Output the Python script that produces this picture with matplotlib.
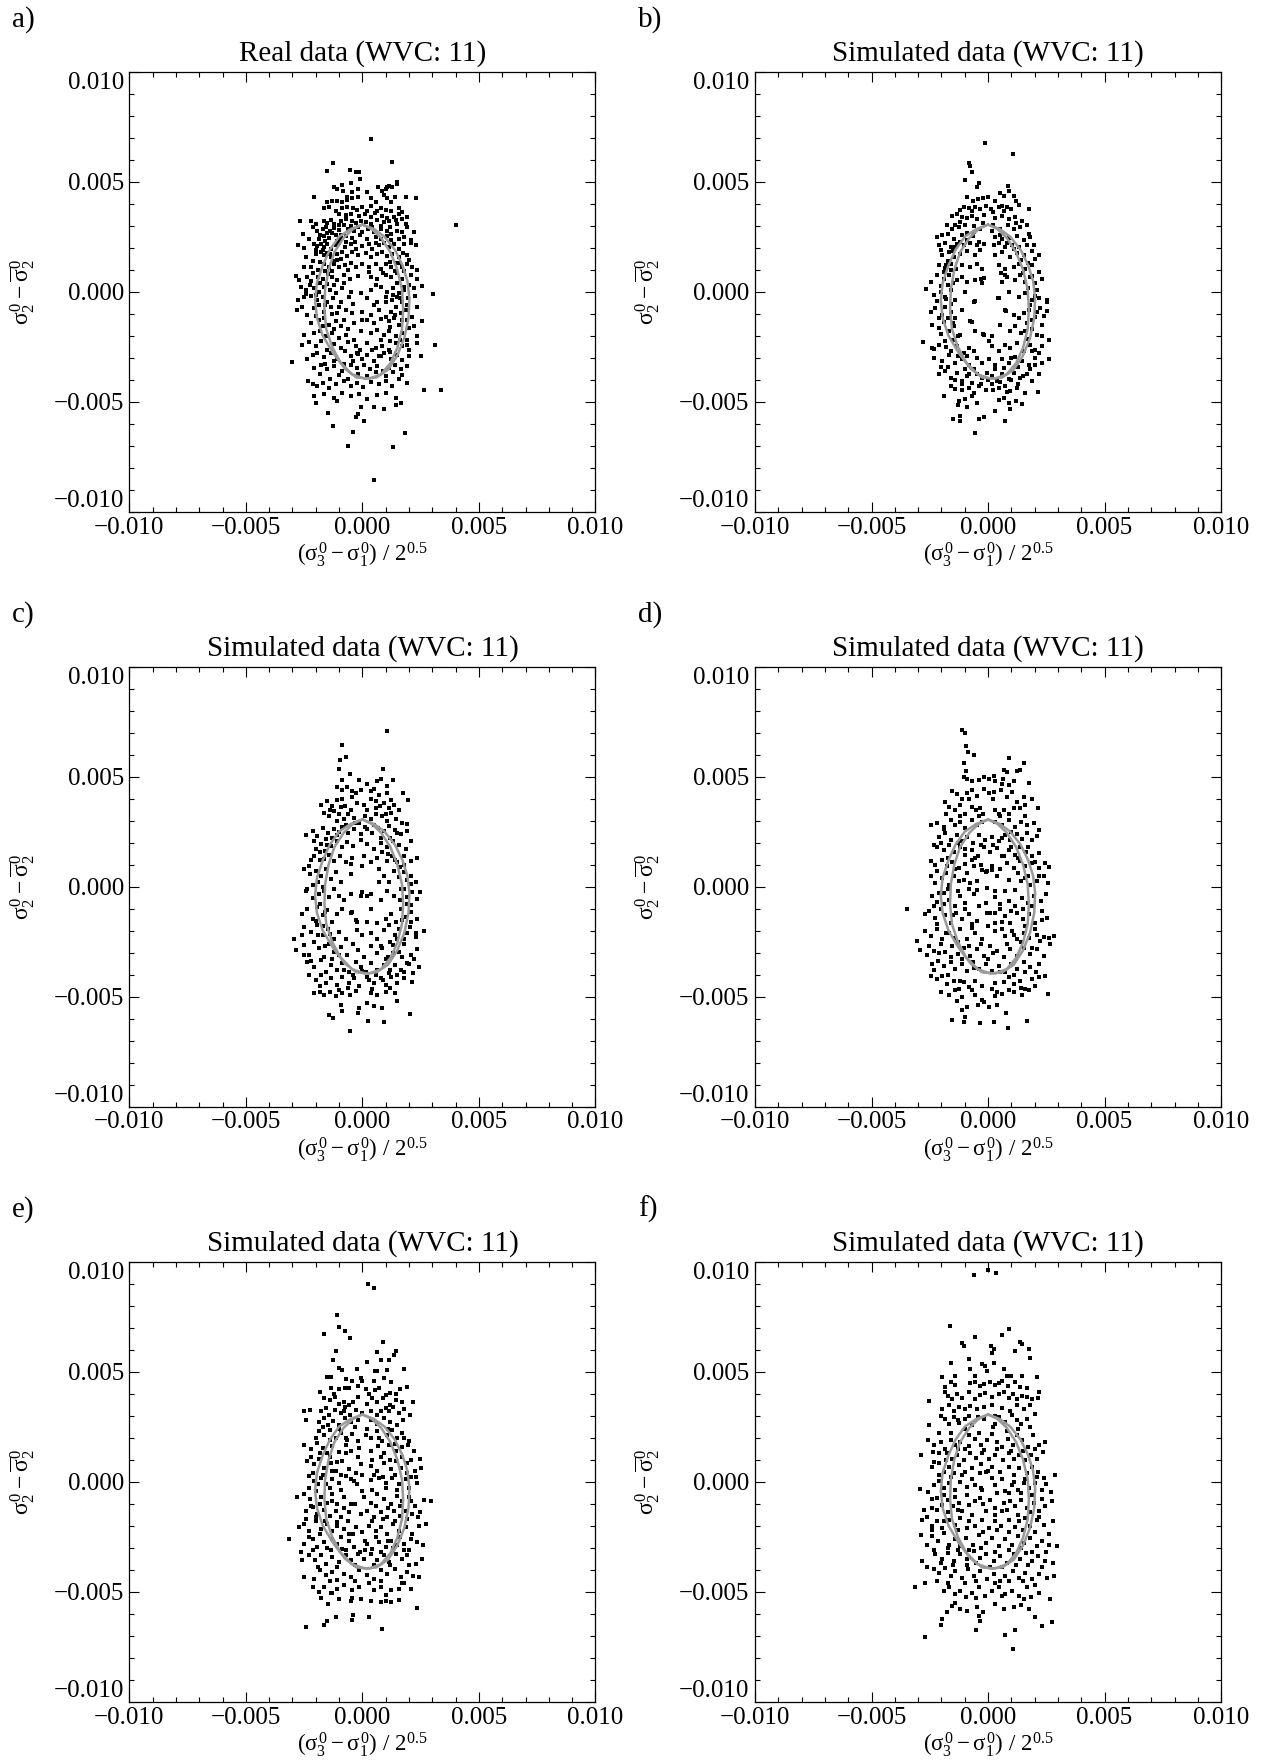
"""
Seis diagramas de dispersion (datos reales y simulados, WVC 11).
"""
import matplotlib.pyplot as plt
import numpy as np
from matplotlib.ticker import FixedLocator, MultipleLocator, FuncFormatter

plt.rcParams['font.family'] = ['Liberation Serif', 'DejaVu Serif']
plt.rcParams['mathtext.fontset'] = 'custom'
plt.rcParams['mathtext.rm'] = 'Liberation Serif'
plt.rcParams['mathtext.it'] = 'Liberation Serif'
plt.rcParams['mathtext.bf'] = 'Liberation Serif:bold'

# valores, en unidades de 1e-4
ESCALA = 1e-4

pts_a = [
    (3.9, 69.5), (-12.6, 58.3), (12.6, 58.8), (-15, 54.9), (-5.3, 55.5), (-2.9, 54.4), (-1.4, 54.4), (-1, 51),
    (15, 50), (14.7, 48.9), (12.9, 47.4), (10.4, 47.4), (-12.1, 47.8), (-11.1, 46.6), (-8.6, 48.4), (-5, 49.2),
    (-8.3, 45.6), (-6.7, 42.9), (-4.3, 45.1), (-1.9, 46.6), (6.7, 47.7), (8.6, 45.6), (10, 46.6), (11.4, 48),
    (-20.7, 42.9), (-15.3, 40.6), (-13.1, 41.4), (-10.7, 41.4), (-8.6, 40.9), (-6.7, 41.8), (-4.3, 42.6),
    (-1.9, 43.2), (1.9, 45.1), (3.6, 42.6), (5.9, 40.6), (9.3, 43.8), (10.4, 42.6), (12.1, 40.9), (14, 42.9),
    (18.6, 43.2), (23.1, 42.4),
    (-16.4, 38), (-14.3, 38.6), (-11.4, 36.8), (-8.6, 38), (-6.4, 38.6), (-3.9, 38), (-2.4, 37.1), (0, 38.6),
    (2.1, 36.8), (3.6, 39.1), (6.1, 36.8), (7.9, 38), (10, 37.1), (12.1, 36.8), (15.7, 38), (17.1, 36.1),
    (-10, 35.3), (-7.1, 34.9), (-5, 35.3), (-1.4, 34.6), (1.1, 35.3), (3.9, 34.1), (5.3, 35.6), (8.6, 34.6),
    (10.7, 33.5), (13.6, 33.8), (15.7, 35.3), (19.3, 33.8),
    (-26.7, 32.3), (-21.9, 32.3), (-20, 30.8), (-16.4, 32.3), (-13.6, 32.6), (-12.1, 30.8), (-9.3, 32.3),
    (-7.1, 33.1), (-4.3, 32.3), (-2.9, 31.1), (-0.7, 32.3), (1.4, 31.6), (3.6, 30.8), (6.4, 32.6), (9.3, 31.6),
    (11.4, 32.3), (14.3, 32.6), (17.1, 33.1), (18.6, 30.8), (15, 30.8),
    (-25.3, 26.3), (-21, 29.3), (-19.3, 27.8), (-17.1, 28.6), (-15.7, 29.6), (-13.9, 27.8), (-12.1, 29),
    (-10, 28.1), (-8.1, 30.1), (-6.1, 28.6), (-3.6, 27.8), (-1.9, 29.3), (2.4, 28.6), (5, 27.1), (7.9, 28.6),
    (10.4, 27.8), (12.4, 26.3), (14.7, 27.8), (17.1, 27.1), (19.3, 29.3), (22.1, 27.1),
    (-18.6, 24.1), (-16.4, 25.1), (-14.3, 24.5), (-11.4, 25.6), (-9.3, 24.1), (-7.1, 25.1), (-4.3, 24.5),
    (-1, 25.6), (2.1, 24.1), (5.7, 24.8), (7.9, 24.1), (10.7, 25.1), (12.4, 23.3), (15.7, 24.1), (17.9, 24.8),
    (20.7, 23.3),
    (-27.6, 21.1), (-20.7, 21.8), (-19.3, 20.6), (-17.9, 21.8), (-16.4, 20.3), (-15, 21.5), (-13.6, 19.5),
    (-11.4, 21.1), (-10, 22.1), (-7.6, 20.3), (-5, 21.5), (-2.9, 19.5), (0, 20.6), (2.9, 21.8), (4.3, 19.5),
    (7.1, 21.1), (9.3, 22.1), (11.4, 20.3), (13.6, 21.5), (15.7, 19.5), (17.9, 21.8), (20.7, 22.1), (22.9, 21.1),
    (-24.3, 15.8), (-20, 17.3), (-17.9, 18), (-16.4, 16.5), (-15, 17.6), (-13.6, 15.8), (-11, 17.3), (-8.6, 18),
    (-6.7, 16.1), (-4.3, 18), (-1.9, 16.5), (1.4, 17.6), (3.6, 15.8), (6.4, 17.3), (8.6, 18), (10.7, 16.1),
    (12.9, 17.3), (15.7, 15.8), (17.6, 17.6), (19.3, 16.5),
    (-28.6, 7.1), (-25, 11.3), (-22.1, 11.3), (-18.1, 13.5), (-16.4, 12.5), (-14.3, 11.3), (-12.1, 12.8),
    (-10, 11.3), (-7.6, 12), (-5, 13.1), (-2.9, 11.3), (0, 12.5), (2.9, 11.3), (5.7, 12.8), (7.9, 10.5),
    (10, 12.5), (12.1, 11.3), (14.3, 13.1), (17.1, 11.3), (19.3, 12.8), (21.4, 11.3), (23.6, 9.8),
    (-27.1, 5.3), (-23.6, 6.8), (-21, 8.3), (-19, 6.8), (-16.7, 6), (-14.7, 8), (-12.9, 6.8), (-10.7, 5.3),
    (-8.1, 7.5), (-5.3, 6), (-1.9, 7.1), (3.6, 6.8), (6.1, 5.6), (10, 7.5), (12.4, 6.5), (14.7, 8.3), (17.1, 6),
    (20.7, 7.5), (23.3, 6),
    (-26.4, 2.3), (-24.3, 0.8), (-22.4, 3), (-20.7, 1.5), (-18.6, 0), (-16.4, 2.3), (-13.9, 0.8), (-11.4, -0.8),
    (-8.6, 1.5), (-5, 0), (-0.7, -0.8), (3.6, 0.8), (7.9, 2.3), (10.7, 0), (13.3, 1.5), (15.7, -0.8), (17.9, 0.8),
    (20, 3), (22.1, 1.5), (25.7, 2.6), (30.4, -1.1),
    (-27.6, -3.8), (-25, -2.6), (-22.1, -2), (-19.3, -3.8), (-17.1, -2.3), (-15, -4.5), (-12.4, -3), (-9.3, -4.5),
    (-5.7, -2.3), (2.1, -3), (6.4, -4.5), (10, -2.3), (12.9, -3.8), (15, -2.3), (17.1, -4.5), (19.6, -3),
    (22.4, -2),
    (-27.9, -8.3), (-25.7, -6.8), (-23.6, -10.5), (-20.7, -7.5), (-18.6, -6), (-16.4, -9), (-13.6, -6.8),
    (-10.7, -9.8), (-7.1, -8.3), (-4.3, -9.8), (0, -9), (3.6, -10.5), (7.1, -8.3), (10, -11.3), (12.1, -9),
    (14.3, -6.8), (16.4, -9.8), (18.6, -8.3), (21.4, -11.3), (23.6, -6.8),
    (-22.1, -14.3), (-18.6, -12.8), (-16.4, -12), (-14.3, -15), (-11.4, -13.5), (-7.9, -12.8), (-3.6, -14.3),
    (2.1, -12.8), (5, -14.3), (7.9, -12.5), (11.4, -13.5), (13.6, -12), (15.7, -15), (19.3, -12.8),
    (22.1, -15.8), (25.7, -13.5),
    (-25, -19.5), (-20.7, -18.8), (-18.1, -18), (-15.7, -20.3), (-12.9, -18.8), (-10, -21.1), (-7.1, -19.5),
    (-3.6, -21.8), (-0.7, -18), (3.6, -18.8), (6.4, -17.6), (9.3, -19.5), (11.4, -18), (14.3, -20.3),
    (17.1, -18.8), (19.3, -21.8), (23.6, -20), (31, -24),
    (-25.7, -24.1), (-22.9, -23), (-20, -24.8), (-17.9, -22.6), (-15, -26.3), (-12.1, -23.6), (-9.3, -25.6),
    (-6.1, -23), (-2.9, -24.8), (-1, -26.3), (2.1, -23.3), (5.7, -25.6), (8.6, -24.5), (11.4, -26.3),
    (14.3, -23.3), (17.1, -24.8), (20, -26.3), (23.6, -23.3),
    (-30, -32), (-23.6, -30.8), (-21.4, -28.6), (-19.3, -27.8), (-16.4, -29.6), (-13.6, -27.8), (-10.7, -30.8),
    (-7.6, -27.1), (-5, -29.3), (-2.4, -27.8), (0, -30.8), (2.1, -28.6), (5, -31.6), (7.1, -29.3), (9.3, -27.8),
    (12.1, -30.8), (15, -28.6), (17.1, -31.1), (20, -29.3), (25, -29.3),
    (-20.7, -34.6), (-17.9, -33.1), (-15.3, -35.3), (-12.1, -33.8), (-8.6, -36.1), (-5, -33.5), (-2.1, -34.6),
    (0.7, -33.1), (3.3, -35.3), (6.4, -33.8), (9, -36.1), (11.4, -34.6), (13.9, -33.1), (16.4, -35.3),
    (19.3, -33.8),
    (-23.3, -40.6), (-21.4, -42.1), (-19.3, -42.9), (-17.1, -41.4), (-14.3, -43.6), (-11.4, -42.1),
    (-8.1, -40.6), (-5, -42.9), (-2.1, -41.4), (0.4, -43.2), (3.6, -41.1), (7.1, -42.1), (10, -40.6),
    (12.9, -42.9), (15.7, -39.8), (19, -41.4), (26.4, -44.7), (33.6, -44.7),
    (-20.7, -47.4), (-16.4, -46.6), (-12.1, -48.1), (-8.6, -46.2), (-5, -47.4), (-1.4, -46.6), (2.1, -48.6),
    (6.4, -47.1), (10, -45.9), (14.3, -48.1), (16.7, -50.7),
    (-20, -50.7), (-10.7, -49.6), (-0.7, -52.2), (5, -52.6), (9.3, -53.1), (14.3, -51.6), (-14.7, -54.9),
    (-1.9, -55.6), (-2.9, -57.1), (0.7, -58.6), (-12.6, -61.2), (-3.9, -63.9), (18.1, -64.2), (-6.1, -69.9),
    (13.3, -70.4), (5, -85.7), (40, 30.5),
    (-18, 26), (-16, 23), (-13, 26.5), (-11, 23), (-9, 26), (-20, 19), (-17, 19), (-14, 17), (-12, 14), (-9, 15),
    (-19, 10), (-16, 9.5), (-13, 9.5), (-11, 14.5), (-21, 14), (-22, 5), (-18, 4), (-15, 3.5), (-12, 3),
    (-24, -1), (-20, -1.5), (-16, -6), (-13, -10), (-10, -7), (-20, -11), (-17, -15.5), (-12, -17), (-9, -15.5),
    (-6, -17), (-2, -28.5), (4, -26.5), (8, -29), (12, -27.5), (14, -33.5), (-4, -31.5), (-8, -33), (-12, -31.5),
    (-16, -33), (-18, -37.5), (-14, -39.5), (-10, -38), (-6, -39.5), (-2, -37.5), (2, -38.5), (6, -36.5),
    (10, -38.5), (13, -36.5), (17, -38), (12, 13.5), (14, 9.5), (16, 13), (18, 9.5), (20, 14.5), (9, 8.5),
    (15, 4), (18, 2), (13, -1.5), (16, -3), (19, -6), (10, -4.5), (14, -10.5), (17, -13), (20, -16.5), (12, -16),
    (8, -22), (12, -22.5), (16, -22), (19, -24), (4, 29.5), (8, 30), (12, 29.5), (-5, 30), (-10, 30.5),
    (-15, 31), (0, 27), (-3, 22.5), (6, 22), (-7, 22.5), (-15, 26.5), (-23, 24), (-25, 20), (-6, 10), (3, 9),
    (-4, -5.5), (5, -6), (0, -13), (-8, 4), (6, 3),
]

pts_b = [
    (-1.4, 67.7), (10.6, 62.4), (-8, 58.6), (-7.9, 57.1), (-7.1, 54.4), (-10.1, 50.7), (-4, 49.6), (-4.7, 47.4),
    (8.6, 48.1), (8.9, 45.9), (11, 43.6), (12, 41.4), (4.9, 44.8), (6.7, 43.6),
    (-9, 42.9), (-6.6, 41.4), (-4.3, 42.1), (-2.3, 42.4), (0, 42.9), (2.9, 41.4), (4.6, 38.3), (6, 38.8),
    (8.1, 38.3), (10, 37.6), (13.1, 39.4), (17.4, 37.6), (-10.4, 38.3), (-8.3, 37.9), (-5.4, 38.3), (-3.3, 37.6),
    (-1.1, 39.1), (1.4, 37.6),
    (-15.4, 34.6), (-13.3, 35.3), (-11.1, 33.8), (-9, 33.4), (-6.9, 34.6), (-4.7, 33.1), (-1.9, 34.9),
    (3.1, 33.4), (6, 34.6), (8.9, 33.1), (11.7, 33.8), (14.6, 32.3), (-11.9, 31.6), (-14, 30.1),
    (-17.6, 30.1), (-15.4, 28.6), (-12.6, 29.3), (-9.7, 30.4), (-6.1, 29.8), (-3.3, 28.6), (1.7, 27.8),
    (5.3, 28.6), (8.6, 30.4), (11, 28.6), (13.9, 29.3), (17.4, 26.3), (16.7, 30.1),
    (-21.9, 24.8), (-19.7, 25.6), (-17.1, 26.3), (-14.7, 24.1), (-11.1, 25.6), (-9, 23.3), (-6.6, 25.3),
    (-4, 22.6), (3.1, 24.8), (6, 23.8), (8.9, 24.4), (12.4, 25.3), (15.3, 23.3), (18.1, 24.8),
    (-21.1, 21.1), (-18.3, 22.3), (-16.1, 20.3), (-13.3, 21.8), (-10.4, 21.1), (-7.6, 22.3), (-4.7, 21.1),
    (-1.9, 21.8), (2.4, 21.1), (4.6, 22.3), (7.4, 20.3), (10.3, 21.4), (13.4, 20.3), (16.7, 21.4), (19.6, 21.1),
    (-19.7, 16.5), (-16.9, 18), (-14.7, 15.8), (-11.9, 17.3), (-9, 18.3), (-5.4, 16.5), (-3.3, 18.8),
    (3.1, 16.5), (6, 18), (9.6, 15.8), (12.4, 17.7), (15.3, 16.5), (18.9, 18.3), (20.3, 15), (21.7, 16.5),
    (-21.1, 12), (-18.3, 10.8), (-16.1, 12.8), (-13.9, 10.5), (-11.1, 12), (-7.6, 11.3), (-4.7, 12.4),
    (-2.6, 10.5), (4.6, 12), (7.4, 10.5), (11, 11.3), (13.1, 12.8), (15.9, 10.5), (18.9, 12), (22, 9),
    (-24.7, 4.5), (-26.6, 1.2), (-21.9, 7.5), (-19, 6), (-16.9, 7.5), (-15.1, 3.8), (-13.3, 5.3), (-11.1, 6.8),
    (-9, 4.5), (-5.4, 5.3), (-1.9, 6.3), (6, 4.5), (8.1, 6.8), (11.7, 5.3), (13.9, 7.5), (16, 4.5), (18.1, 6.8),
    (20.3, 3.8), (23.1, 6),
    (-23.3, -1.5), (-20.4, 0), (-18.3, -2.3), (-16.1, 0.8), (-14.3, -3.8), (-9.7, 0), (-6.1, -4.5), (4.6, -3),
    (8.9, 0), (13.1, -2.3), (16, -0.8), (18.9, -3.8), (21, 0.8), (25.3, -3.8), (25.3, -4.5),
    (-24.7, -9), (-22.6, -7.5), (-19.7, -10.5), (-18.3, -6.8), (-16.1, -9), (-14, -12), (-11.1, -8.3),
    (-7.6, -13.5), (7.4, -8.3), (11, -10.5), (13.1, -12), (15.3, -9.8), (17.4, -8.3), (20.3, -11.3),
    (22.4, -7.5), (25.3, -8.7),
    (-24, -15), (-21.1, -16.5), (-19, -13.8), (-16.9, -18), (-14.7, -15.8), (-11.9, -19.5), (-5.4, -18),
    (-1.9, -19.5), (9.6, -18), (11.7, -15.8), (14.3, -18.8), (16.7, -14.3), (18.9, -16.8), (21, -19.5),
    (23.1, -15),
    (-28, -22.9), (-24, -25.6), (-21.1, -24.1), (-18.3, -22.6), (-16.1, -27.1), (-13.3, -24.8), (-10.4, -27.8),
    (-8.3, -25.6), (0.3, -22.6), (1.7, -24.8), (4.6, -27.1), (7.4, -24.1), (9.6, -25.6), (12.4, -23.3),
    (15.3, -27.1), (18.1, -24.1), (20.3, -26.3), (23.1, -24.8), (26.3, -21.8),
    (-23.3, -30.1), (-19.7, -31.6), (-16.9, -28.9), (-14, -32.3), (-11.1, -30.8), (-8, -33.1), (-4.7, -30.1),
    (-2.6, -32.3), (0.3, -30.4), (3.1, -33.1), (6, -30.8), (8.9, -32.3), (11.7, -29.6), (14.6, -31.6),
    (17.4, -33.1), (20.3, -30.1), (23.1, -32.3), (26, -30.4),
    (-21.1, -37.6), (-18.3, -36.1), (-16.1, -39.1), (-13.3, -36.8), (-11.1, -40.6), (-9, -38.3), (-6.9, -41.4),
    (-4.7, -37.6), (-2.6, -39.1), (-0.4, -36.8), (1.7, -38.3), (3.9, -40.6), (6, -37.6), (8.9, -39.8),
    (11, -36.8), (13.9, -39.1), (16.7, -37.6), (18.9, -40.6), (21.7, -37.6),
    (-19, -47.4), (-16.1, -42.9), (-14, -44.4), (-11.1, -42.1), (-8.3, -43.9), (-6.1, -45.9), (-4, -42.9),
    (-1.1, -44.8), (1.7, -42.1), (4.6, -43.9), (7.4, -42.9), (9.6, -45.1), (12.4, -43.6), (16, -45.9),
    (21.4, -45.4),
    (-12.6, -49.6), (-9.7, -48.9), (-6.9, -47.4), (-4.7, -50.4), (4.6, -49.3), (6.7, -48.1), (9, -50.8),
    (11.9, -49.6), (14.7, -51.1), (-12.9, -51.4), (-9, -52.6), (3.1, -54.1), (9.6, -53.4),
    (-15.1, -57.9), (-11.9, -56.4), (-11.9, -58.9), (-3.7, -57.9), (-1.9, -56.8), (7.1, -58.6), (-5.4, -64.4),
    (-5.7, -4.2), (-7.1, -13.8), (4.3, -3), (7.9, -8.7), (-2.3, -19.2), (1.7, -20.3), (4.9, -15), (-2.9, 6),
    (-2.6, 3.8), (5.7, 8.7), (7.4, 7.5),
    (-20, 19), (-17, 14), (-15, 18.5), (-19, 9), (-17, 3), (-20, 2.5), (-22, -4), (-18, -3.5), (-16, -5.5),
    (-21, -12), (-17, -12), (-15, -14), (-20, -19), (-18, -25), (-15, -22), (-13, -29), (-10, -35), (-8, -37.5),
    (-6, -35), (-3, -42), (0, -40), (2, -44.5), (5, -41), (8, -45.5), (10, -40), (13, -42), (15, -38.5),
    (18, -35), (20, -33.5), (22, -28), (19, -27), (17, -21.5), (16, -18), (19, -13), (21, -9), (18, -6), (20, -2),
    (17, 1.5), (19, 7), (15, 8.5), (17, 13), (14, 14.5), (11, 19.5), (8, 22), (5, 26), (2, 30.5), (-2, 31),
    (-6, 27), (-9, 26.5), (-12, 22.5), (-14, 20.5), (-16, 10), (-18, 12), (-13, -20), (-9, -29), (-6, -27),
    (3, -35), (7, -34.5), (10, -30), (13, -34), (-11, -44.5), (-14, -40), (-17, -34), (-20, -34), (-23, -26),
    (23, -20), (24, -11), (22, -3), (-12, 37), (-7, 36.5), (2, 36), (7, 36.5), (12, 31),
]

pts_c = [
    (10.4, 70.7), (-8.9, 64.4), (-9.7, 57.3), (-7.1, 58.8), (-10, 53.4), (-5.3, 51.3), (8.7, 53.4),
    (-8.9, 48.6), (-1.4, 48.3), (2.1, 46.8), (6.4, 47.8), (8.1, 48.9), (10.7, 45.9), (13.3, 48.3),
    (-10.7, 45.3), (-8.6, 44.1), (-6.4, 45.3), (-4.3, 43.3), (-2.9, 42.6), (-0.7, 44.1), (3.6, 43.3), (5, 44.4),
    (7.1, 41.8), (10.7, 42.6), (12.4, 39.5), (17.6, 42.6), (19.6, 39.5),
    (-17.9, 37.3), (-15, 38.8), (-12.9, 36.5), (-10.7, 39.5), (-8.6, 39.8), (-7.6, 36.8), (-4.3, 40.8),
    (-2.1, 38), (0.7, 37.3), (3.6, 39.8), (5.7, 38.8), (7.6, 36.5), (9.3, 38), (11.4, 35.8), (13.6, 37.3),
    (15.7, 35),
    (-16.4, 33.5), (-14.3, 32), (-12.1, 34.3), (-10, 32.8), (-8.1, 30.5), (-6.1, 33.2), (-3.6, 31.3), (-1.4, 29),
    (1, 32.3), (3.6, 30.5), (5.7, 33.2), (8.6, 32), (10.4, 29.8), (12.1, 33.5), (14.3, 30.8), (17.1, 29),
    (19.3, 28.3),
    (-24.3, 23.3), (-21.4, 25.3), (-19.3, 23), (-16.7, 26.8), (-14.7, 24.5), (-12.1, 26), (-10.7, 23.3),
    (-8.6, 27.2), (-6.1, 24.2), (-3.6, 26), (-0.7, 23.8), (2.1, 26.3), (4.3, 24.5), (6.7, 26.8), (9.3, 25.3),
    (11.4, 27.5), (13.9, 25.7), (16.4, 23.8), (19.3, 25.3),
    (-20.7, 20.8), (-17.9, 19.2), (-15.7, 21.5), (-13.6, 18.5), (-11, 20.8), (-8.6, 18.2), (-6.4, 20.3),
    (-3.9, 18.5), (-0.7, 21.2), (2.1, 19.2), (5, 17), (7.9, 20), (10.7, 18.2), (13.3, 20.8), (15.7, 18.8),
    (18.6, 17), (20.7, 20.8),
    (-22.9, 9.5), (-20.7, 14), (-18.1, 15.5), (-16.4, 12.5), (-14.3, 14.3), (-12.1, 11.7), (-9.6, 14),
    (-7.1, 11), (-4.3, 13.2), (0.7, 14), (3.6, 11), (6.4, 12.8), (8.6, 15.5), (10.7, 11.7), (12.9, 14),
    (15, 11), (17.9, 14), (20.7, 11.7), (23.6, 13.2),
    (-25, 8), (-22.4, 5.7), (-20, 7.2), (-17.9, 5), (-15.7, 8), (-13.6, 3.5), (-11.4, 6.5), (-9, 2), (-5, 5.7),
    (7.1, 8), (9.3, 5), (11.4, 2), (13.6, 7.2), (15.7, 4.2), (17.9, 6.5), (20.7, 5), (22.9, 2), (24.7, -2.3),
    (-23.6, -1.1), (-21, 0.5), (-18.6, -3.3), (-16.4, -1.8), (-14.3, -4.8), (-12.1, -1.1), (-10, -4.1),
    (-7.9, -6.3), (-5, -3.3), (-0.7, -4.1), (3.6, -3.3), (7.9, -6.3), (10.7, -1.8), (13.6, -4.1), (16.4, -1.1),
    (19, -4.8), (21.4, -2.6), (23.6, -5.6),
    (-26.1, -12.3), (-23.6, -10.1), (-21.4, -14.6), (-19.3, -9.3), (-17.1, -13.1), (-15, -10.8),
    (-12.9, -16.1), (-10.7, -12.3), (-8.6, -10.1), (-4.3, -11.6), (-2.9, -15.3), (2.1, -16.1), (6.4, -16.4),
    (10, -14.6), (12.1, -12.3), (14.3, -16.1), (16.4, -10.1), (18.6, -13.8), (20.7, -11.6), (23.6, -14.6),
    (-25, -18.3), (-22.1, -20.6), (-19.3, -17.6), (-16.7, -22.1), (-14.7, -19.1), (-12.1, -23.6), (-10, -20.6),
    (-7.1, -23.6), (-2.1, -19.8), (0, -22.1), (3.6, -20.9), (6.4, -23.6), (9.3, -19.8), (11.4, -17.6),
    (13.9, -22.1), (15.7, -19.1), (17.9, -23.6), (20.4, -18.3), (22.9, -20.9), (26.4, -20.3),
    (-29.3, -23.9), (-28.6, -28.9), (-25, -26.5), (-22.9, -31.1), (-20.7, -25.1), (-18.6, -28.1),
    (-16.4, -31.9), (-14.3, -25.9), (-12.1, -29.6), (-9.3, -27.4), (-6.4, -31.1), (-3.9, -25.9), (-1.9, -28.9),
    (0.7, -31.9), (3.6, -26.9), (6.1, -30.4), (8.6, -28.1), (11, -31.9), (13.3, -26.6), (15.7, -29.6),
    (17.9, -25.9), (20.7, -31.1), (23.6, -28.4),
    (-23.6, -34.1), (-20.7, -36.4), (-17.9, -33.4), (-15.7, -38.6), (-13.6, -35.6), (-11, -37.9), (-8.6, -34.9),
    (-5.7, -38.6), (-2.9, -34.1), (-0.7, -36.4), (1.4, -39), (3.6, -34.9), (6.4, -37.9), (9.3, -35.6),
    (11.4, -39.4), (13.9, -35.6), (16.4, -37.9), (19.3, -34.9), (21.9, -39.4), (24.3, -36.4),
    (-22.9, -40.2), (-20, -42.4), (-17.9, -40.2), (-15.7, -43.9), (-13.6, -41.7), (-10.7, -44.7), (-8.6, -40.9),
    (-5.7, -43.9), (-3.6, -41.7), (-1.4, -45.4), (2.1, -40.9), (5, -43.9), (7.9, -41.7), (10, -44.7),
    (12.4, -40.9), (15, -43.6), (17.9, -41.4), (21.4, -43.2),
    (-20.7, -48.4), (-18.1, -48), (-16.4, -49.5), (-13.9, -47.7), (-11.4, -49.9), (-8.6, -48.4), (-5.3, -49.2),
    (-2.9, -47.4), (3.6, -48.4), (6.4, -49.5), (10, -47.7), (13.9, -48.4), (14.7, -52.2),
    (-9, -53.7), (-8.6, -56.4), (-1.4, -55.2), (-1.9, -57.4), (2.1, -52.9), (5, -54.4), (8.6, -55.2),
    (-14.3, -58.2), (-12.4, -59.7), (2.4, -61), (9.3, -61.5), (20.4, -58), (-5.3, -65.7),
    (-5, 10.2), (0, 9.5), (7.1, 2), (-5, -11.9), (2.1, -4.1), (-2.4, -16.1), (3.6, -10.1), (0, -2.3),
    (-20, 17), (-18, 12), (-16, 16), (-22, 12), (-19, 2), (-17, 0), (-21, -5), (-18, -8), (-16, -11.5),
    (-20, -15.5), (-17, -18), (-14, -21.5), (-19, -22), (-16, -27), (-13, -33), (-10, -31), (-8, -38), (-4, -40),
    (0, -38.5), (3, -42.5), (6, -40), (9, -42.5), (12, -38), (15, -40), (18, -39), (20, -35), (17, -32),
    (13, -30), (10, -33), (8, -27), (12, -25), (15, -24), (19, -21), (17, -15), (21, -16), (19, -8), (16, -6),
    (21, -8.5), (18, -1), (21, 1), (19, 3), (16, 9), (18, 10), (14, 12), (11, 15), (8, 22), (12, 22), (15, 24.5),
    (5, 28), (1, 27), (-3, 29), (-7, 28), (-10, 25), (-13, 22), (-15, 19), (-11, 30), (-14, 35), (-9, 36),
    (-5, 35), (2, 35), (6, 35.5), (10, 33), (-22, -34), (-25, -31), (-26, -22), (-6, -46), (-10, -47), (4, -46.5),
    (12, -46), (-18, -45), (-24, -2), (23, -23), (22, -33),
]

pts_d = [
    (-11.4, 71.1), (-9.7, 69.6), (-9.4, 64.1), (-8.6, 61.1), (-6.1, 60), (8.9, 58.5), (15.3, 56.1),
    (-10.4, 56.1), (-9.6, 52.5), (-10.4, 49.8), (6.7, 52.8), (8.1, 52), (12.4, 52.5), (13.9, 52.8), (17.7, 47.1),
    (-9, 49), (-7.1, 48), (-4, 48.3), (-1.9, 49.8), (0.3, 49), (2.4, 50.1), (3.1, 48), (6.3, 49), (6, 46.5),
    (8.9, 46), (11, 48),
    (-15.4, 43.5), (-13.3, 42), (-11.1, 40), (-9, 42.3), (-7.1, 43.8), (-4.7, 41), (-1.9, 44.5), (0.3, 42.6),
    (2.4, 43.1), (5.7, 43.8), (8.1, 40.8), (10.3, 43.1), (12.4, 38.6), (15.3, 40.5), (18.9, 40), (-18.3, 38.6),
    (-16.9, 36.1),
    (-14, 34.7), (-11.9, 37), (-9.7, 33.2), (-7.1, 36.2), (-5.1, 34.7), (-3.3, 35.9), (-2.3, 33.2), (3.1, 34.7),
    (4.6, 32.9), (6.7, 35), (8.9, 33.2), (11, 35.5), (13.9, 35.9), (16, 37), (21.4, 35.9),
    (-24.7, 28), (-21.9, 29), (-19, 27.2), (-16.1, 30.2), (-14, 28), (-11.9, 29.5), (-9.7, 26.5), (-7.1, 30.2),
    (-4.7, 28), (-2.6, 29.5), (3.1, 29.5), (6, 28), (8.9, 30.2), (11.7, 27.2), (14.3, 29.5), (16.7, 28),
    (19.6, 28.7), (21.7, 25.7),
    (-21.1, 22.7), (-18.3, 24.2), (-16.1, 21.2), (-13.3, 23.5), (-11.1, 20.5), (-9, 22.7), (-6.6, 20),
    (-4, 23.5), (-1.4, 21.2), (1.7, 22.7), (4.6, 20.5), (7.1, 23.5), (9.6, 21.2), (12.4, 23.9), (14.6, 21.8),
    (16.7, 24.2), (18.9, 21.2), (21, 23),
    (-21.9, 18.2), (-19, 16.7), (-16.9, 18.9), (-14.7, 15.9), (-11.9, 18.2), (-9.7, 14.4), (-6.9, 16.7),
    (-4.3, 13.7), (-1.9, 17.9), (1, 15.9), (3.9, 17.4), (6, 13.7), (8.9, 16.7), (11.4, 14.4), (13.9, 18.2),
    (16.3, 15.9), (18.9, 13.7), (21.7, 15.2),
    (-24.7, 11.4), (-22.9, 9.9), (-19.7, 12.2), (-17.6, 9.2), (-15.4, 11), (-12.6, 8.4), (-9.7, 10.4),
    (-6.1, 9.2), (-1.1, 6.5), (1.7, 7.7), (8.1, 10.7), (11, 8.4), (13.9, 11.4), (16, 9.2), (18.9, 10.7),
    (21.7, 8.4), (24.6, 10.7), (26.3, 8.9),
    (-24.7, 4.7), (-22.6, 1.7), (-19.7, 3.9), (-16.9, 0.9), (-14.7, 5), (-12.6, 2.4), (-10.4, 3.2), (-7.6, 1.7),
    (-4.7, -1.4), (-0.4, -0.6), (3.1, -2.1), (7.4, -2.1), (11.7, -1.4), (14.3, 2.4), (16, 3.9), (18.1, 0.9),
    (21, 2.4), (23.9, 4.7), (25.7, 1.7),
    (-34.7, -10.1), (-26.9, -12.6), (-24, -4.4), (-21.9, -7.1), (-19, -2.9), (-16.9, -6.2), (-14.3, -8.9),
    (-11.9, -4.4), (-9.7, -7.4), (-6.1, -3.6), (-1.1, -7.4), (2.9, -4.7), (8.9, -6.6), (11.7, -8.9),
    (14.6, -5.1), (17.1, -7.4), (19.6, -4.4), (22.9, -6.6), (24.9, -3.6),
    (-25.4, -11.1), (-22.9, -14.1), (-20.4, -10.4), (-18.3, -13.1), (-16.1, -16.4), (-13.7, -11.9),
    (-11.1, -14.9), (-8.3, -12.6), (-4.7, -15.6), (1, -11.9), (3.1, -16.4), (7.4, -13.4), (9.6, -16.4),
    (12.4, -11.9), (14.9, -14.9), (17.4, -12.6), (20.3, -16.4), (23.1, -11.1), (25.3, -14.1),
    (-26.9, -20.2), (-24.3, -22.4), (-21.9, -19.4), (-19.7, -23.9), (-16.9, -20.9), (-14.3, -23.2),
    (-11.9, -19.4), (-9, -23.9), (-5.4, -20.9), (-2.6, -23.9), (3.1, -20.2), (7.4, -22.4), (10.3, -20.2),
    (12.4, -23.9), (15.3, -20.9), (17.4, -23.2), (20, -19.4), (22.4, -24.6), (26, -23.2), (28.1, -22.4),
    (-30.4, -24.7), (-29.4, -28.7), (-25.4, -26.9), (-23.3, -29.2), (-20.4, -26.2), (-18.3, -29.9),
    (-15.4, -27.2), (-12.9, -30.7), (-10.4, -27.7), (-7.6, -31.4), (-4.7, -28.4), (-1.9, -31.4), (1, -26.9),
    (3.9, -29.2), (6.7, -32.2), (9.6, -28.4), (12.4, -31.4), (15.3, -27.7), (18.1, -30.7), (21, -28.4),
    (23.9, -31.4), (26.7, -26.2),
    (-24, -35.2), (-21.4, -33.7), (-19, -35.9), (-16.1, -34.4), (-14, -37.4), (-11.4, -35.2), (-9, -38.2),
    (-6.6, -34.4), (-4, -37.4), (-1.1, -35.2), (1.7, -38.2), (4.6, -35.9), (7.4, -38.9), (10, -35.2),
    (12.4, -37.4), (15.3, -34.4), (18.1, -36.7), (20.6, -38.9),
    (-24.7, -40.5), (-21.9, -42), (-19.7, -40.5), (-17.6, -44.2), (-14.7, -42.7), (-12.6, -46.5),
    (-10.4, -43.5), (-8, -45.7), (-5.4, -42.7), (-2.6, -45), (1.7, -46.5), (3.9, -48), (6.7, -43.5),
    (8.9, -41.2), (11, -44.2), (13.9, -42.7), (16, -46.5), (18.9, -41.9), (21.7, -41.2), (24.6, -40.5),
    (25.7, -48.7),
    (-20.4, -48), (-16.9, -49.5), (-14, -47.2), (-11.1, -50.2), (-5.4, -49.2), (-2.6, -51.7), (3.1, -49.8),
    (6, -48.7), (11, -48), (14.6, -49.2), (17.4, -47.2),
    (-13.3, -52.2), (-11.1, -56.2), (-9, -54.7), (-4.3, -54), (-1.9, -52.5), (0.3, -54.7), (3.9, -53.7),
    (7.7, -57.3), (-15.4, -60.8), (-10.4, -61.5), (-9.7, -59.2), (-3.3, -61.8), (2.4, -61.5), (8.6, -64.2),
    (16.7, -61.2),
    (-2.6, 7.7), (-0.4, 6.9), (1.7, 9.2), (-4.7, 2.4), (3.9, 4.7), (-0.4, -11.9), (-4, -8.9), (5.3, -10.4),
    (-6.9, -17.1), (6, -19.4), (3.1, -11.9), (-5.4, 12.9), (6.7, 13.7),
    (-20, 20), (-17, 13), (-13, 20), (-10, 17), (-7, 12), (-3, 19), (2, 19), (6, 22), (10, 18), (13, 13),
    (17, 18), (20, 11), (-22, 7), (-18, 6), (-14, 8), (-9, 6), (-3, 10), (5, 8), (9, 3), (13, 6), (17, 5),
    (22, 5), (-21, -3), (-17, -1), (-13, -2), (-8, -1), (5, -8), (10, -11), (15, -10), (19, -9), (23, -15),
    (-23, -9), (-19, -8), (-15, -13), (-10, -10), (-7, -19), (0, -18), (6, -16), (11, -22), (16, -18),
    (21, -22), (-22, -17), (-18, -21), (-13, -25), (-8, -27), (-3, -26), (2, -30), (8, -26), (14, -25),
    (19, -28), (24, -23), (-26, -31), (-21, -30), (-16, -32), (-11, -33), (-6, -37), (0, -33), (5, -39),
    (11, -40), (16, -39), (22, -35), (-23, -38), (-17, -40), (-12, -43), (-7, -47), (3, -44), (9, -47),
    (14, -46), (20, -45), (-18, 33), (-12, 32), (-4, 32), (5, 32), (10, 25), (16, 32), (-8, 40), (2, 40),
    (-19, 26), (-23, 19),
]

pts_e = [
    (2.2, 90), (5.1, 88),
    (-11, 75.5), (-10, 70.2), (-7.6, 68.4), (-16.4, 67.2), (-5.3, 65.3), (8.7, 63.5), (-11.4, 59.2),
    (-12.6, 55.2), (6.4, 58.9), (14.3, 59.4), (13.6, 57.4), (2.1, 54.4), (7.9, 55.2), (11.4, 55.2),
    (-10, 51.7), (-8.6, 50.7), (-2.1, 51.1), (5.3, 50.2), (6.1, 50.2), (10.7, 50.7), (17.9, 51.1),
    (-15, 47.7), (-13.3, 47.7), (-7.1, 46.6), (-4.3, 45.7), (-0.4, 47.2), (-0.1, 45.7), (5, 45.7), (9.3, 46.9),
    (12.1, 45.4), (19, 43.2), (-18.1, 40.9), (-13.3, 42.7), (-10, 42.1), (-7.6, 42.7), (-5.7, 42.4),
    (-1.9, 43.6), (1.4, 42.1), (5.3, 41.7), (7.1, 42.7), (10, 39.4), (11.9, 40.2), (14.3, 39.7),
    (-16.4, 37.9), (-13.9, 37.1), (-11.9, 38.6), (-10, 35.2), (-7.9, 36.4), (-5.7, 34.6), (-3.9, 36.4),
    (-1.9, 38.6), (2.1, 35.2), (4.3, 37.9), (6.4, 36.4), (9, 37.9), (11.9, 34.6), (14.3, 37.1), (17.1, 36.1),
    (21.9, 36.4),
    (-25, 31.9), (-22.4, 32.6), (-17.9, 31.9), (-15.7, 33.4), (-14.3, 30.4), (-11.9, 32.6), (-9.3, 31.1),
    (-7.6, 33.7), (-5.3, 30.4), (-2.9, 32.6), (0, 31.1), (3.6, 31.9), (6.1, 30.4), (10, 33.4), (11.4, 31.9),
    (13.3, 34.1), (15.7, 31.1), (17.9, 33.1), (20.4, 30.4),
    (-24.3, 28.1), (-18.6, 27.1), (-16.4, 28.9), (-14.7, 25.9), (-12.4, 27.7), (-10, 25.6), (-7.6, 28.9),
    (-5, 27.1), (-1.9, 28.1), (3.6, 28.1), (6.4, 26.2), (9.3, 28.9), (11.9, 27.1), (14.7, 25.9), (17.6, 28.1),
    (-18.6, 22.9), (-16.4, 21.4), (-13.9, 23.6), (-11.4, 19.8), (-9, 22.1), (-6.7, 19.1), (-4.3, 21.7),
    (-1.9, 18.3), (1.4, 21.4), (3.6, 19.8), (6.1, 22.9), (8.6, 18.3), (10.7, 21.4), (12.9, 23.6), (15, 19.8),
    (17.1, 22.1), (20, 18.3),
    (-25, 16.8), (-22.1, 14.6), (-19.3, 17.6), (-16.7, 15.3), (-15, 13.1), (-12.9, 16.1), (-10, 13.5),
    (-7.1, 16.8), (-5, 13.8), (-1.4, 15.3), (3.6, 13.8), (6.7, 16.1), (9.3, 13.1), (11.4, 16.8), (14.3, 14.1),
    (17.1, 15.6), (19.6, 16.8), (22.1, 13.8), (24.7, 10.1),
    (-23.6, 9.3), (-20.7, 7.8), (-18.6, 10.1), (-16.4, 6.3), (-13.6, 8.6), (-11.4, 4.8), (-8.6, 9.3),
    (-5.7, 5.6), (-2.9, 4.1), (-0.7, 7.8), (3.6, 7.1), (6.4, 4.8), (9.3, 8.6), (12.1, 5.6), (14.3, 9.3),
    (16.7, 6.3), (19.3, 8.6), (22.4, 4.8), (25, 6.3),
    (-22.9, 2.6), (-20.7, 0.3), (-17.9, 1.8), (-15.7, -1.2), (-12.9, 1.1), (-10, -0.5), (-7.1, 2.6), (-3.6, 0.3),
    (3.6, 0.6), (7.1, 1.8), (10, -0.5), (12.9, 1.8), (15.7, -1.2), (18.6, 1.1), (20.7, 2.1), (23.6, -0.5),
    (-28.1, -6.9), (-25, -5.7), (-22.4, -8), (-20, -4.2), (-17.9, -7.2), (-15, -9.5), (-12.9, -5.7),
    (-10.7, -10.2), (-7.9, -7.2), (-5, -10.2), (0.7, -7.2), (3.6, -9.5), (6.4, -5.7), (9.3, -8), (12.1, -10.2),
    (14.7, -6.5), (17.1, -9), (20, -7.2), (22.4, -11), (26.4, -8.4), (29.3, -9),
    (-24.3, -13.2), (-21.4, -11.7), (-19.3, -14.7), (-16.4, -12.9), (-13.9, -15.5), (-11.4, -13.2),
    (-9.3, -16.2), (-5.7, -14), (-0.7, -14.7), (2.1, -13.2), (5, -15.9), (7.9, -14), (10.7, -16.2),
    (13.6, -13.2), (16.1, -15.5), (18.6, -13.2), (21.4, -14.7), (24.7, -14),
    (-27.1, -20.8), (-25, -19.2), (-22.9, -22.3), (-20, -18), (-17.9, -21.5), (-15.3, -19.2), (-12.9, -22.3),
    (-10.7, -18.5), (-8.1, -21.5), (-5.7, -23.8), (-2.9, -20.8), (0, -23), (2.9, -20), (5.7, -22.3),
    (7.9, -20.8), (10.7, -23.8), (13.3, -19.2), (15.7, -22.3), (18.6, -20.8), (21.4, -23.8), (24.3, -20),
    (27.1, -19.2),
    (-31.4, -26), (-26.4, -32), (-25, -28.3), (-21.4, -26), (-19.3, -29.8), (-16.4, -27.5), (-13.6, -31),
    (-11, -28.3), (-8.6, -30.5), (-5.7, -26.8), (-3.6, -29.5), (-1, -32), (2.1, -28.3), (4.3, -30.5),
    (7.1, -27.5), (10, -29.8), (12.1, -26.8), (15, -29), (17.9, -28.3), (20, -31.3), (23.6, -27.5), (26.1, -29),
    (-25.7, -35.8), (-22.9, -33.5), (-20.4, -35.8), (-17.9, -33.5), (-15.7, -37.3), (-12.9, -34.3),
    (-10, -36.5), (-7.1, -33.5), (-5, -35.8), (-1.9, -32.8), (0.7, -35.1), (3.6, -32.8), (6.4, -35.8),
    (9.3, -33.5), (11.4, -36.5), (14.3, -32.8), (17.1, -35.1), (19.3, -33.5), (22.9, -37.3), (25.7, -35.1),
    (-25, -43.3), (-20.7, -44.1), (-18.1, -40.3), (-15.7, -42.6), (-12.9, -41.1), (-10.7, -44.8), (-7.9, -41.8),
    (-5, -43.3), (-1.4, -40.3), (2.1, -42.6), (5, -44.1), (7.9, -40.3), (10.7, -41.8), (13.9, -39.6),
    (16.4, -43.3), (19, -41.1), (21.9, -43), (24.3, -43.3),
    (-21.4, -47.8), (-18.6, -50.1), (-16.4, -47.8), (-13.6, -50.8), (-10.7, -48.6), (-7.9, -47.1),
    (-4.3, -49.3), (-1.4, -47.8), (2.9, -46), (5, -49.3), (7.9, -47.8), (10, -51.6), (12.1, -49.3),
    (15.7, -48.6), (17.9, -46.3), (20.7, -49),
    (-17.9, -53.1), (-14.7, -55.4), (-12.9, -50.8), (-10, -53.5), (-5, -54.1), (-4.3, -53.1), (-0.7, -53.5),
    (3.6, -54.1), (7.9, -54.6), (10, -54.1), (12.1, -54.6), (15.7, -53.8),
    (23.3, -57.6), (-11.4, -61.4), (-3.9, -60.6), (-4.3, -62.9), (2.9, -61.4), (-15, -63.2), (-16.4, -65.1),
    (-24.3, -65.9), (8.6, -67.1), (-2.1, -1.2), (0, -4.2),
    (-20, 20), (-17, 25), (-14, 19), (-10, 24), (-7, 20), (-3, 25), (2, 24), (7, 20), (11, 24), (14, 17),
    (18, 20), (-22, 11), (-18, 13), (-14, 11), (-11, 9), (-7, 13), (-2, 11), (4, 10), (8, 11), (12, 10), (17, 11),
    (21, 10), (-21, 4), (-17, 3), (-13, 5), (-9, 3), (-5, 1), (0, 3), (5, 3), (9, 2), (14, 3), (19, 4), (23, 2),
    (-23, -3), (-19, -1), (-14, -3), (-9, -4), (4, -4), (10, -3), (15, -4), (20, -3), (-22, -11), (-18, -10),
    (-13, -9), (-8, -12), (-3, -10), (6, -11), (11, -12), (16, -11), (21, -9), (-24, -17), (-20, -16),
    (-16, -18), (-11, -20), (-6, -18), (4, -18), (9, -17), (14, -18), (19, -17), (24, -16), (-23, -25),
    (-18, -24), (-13, -26), (-9, -25), (-4, -24), (1, -27), (6, -25), (11, -27), (16, -25), (21, -26),
    (-21, -31), (-15, -30), (-7, -31), (1, -31), (8, -32), (13, -30), (18, -31), (-19, -39), (-11, -39),
    (-3, -38), (5, -38), (12, -38), (20, -38), (-14, -45), (-3, -45), (8, -45), (17, -46), (-8, 32), (8, 32),
    (-12, 40), (3, 40), (16, 42),
]

pts_f = [
    (-6, 94), (0, 96), (3.4, 95),
    (-16.4, 70.7), (8.9, 69.2), (6, 66.5), (-5.7, 65.9), (-11.1, 63.2), (-10.4, 61.7), (13.9, 63.5),
    (14.6, 62.4), (1.4, 61.7), (1.7, 58.6), (2.4, 60.2), (11.4, 59.4), (17.7, 60.2), (18.1, 56.4), (-8.3, 55.6),
    (-15.7, 54.1), (-2.6, 53.4), (-1.4, 52.6), (-0.4, 50.4), (2.4, 54.1), (6.7, 51.4), (-7.6, 51.1),
    (-5.4, 47.8), (-19.7, 47.4), (-14, 48.1), (8.1, 47.8), (10, 48.1), (14.6, 47.8), (21, 47.4),
    (-18.3, 42.9), (-16.1, 45.1), (-14.3, 43.9), (-7.6, 44.8), (-5.4, 45.1), (-3.3, 43.3), (-1.9, 44.4),
    (1, 45.1), (3.1, 43.9), (4.6, 44.8), (6, 45.9), (8.6, 43.3), (11.4, 45.1), (13.9, 42.9), (16.7, 42.4),
    (21.7, 40.9),
    (-25.4, 36.8), (-18.3, 40.6), (-17.1, 38.8), (-15.4, 37.6), (-13.3, 39.8), (-11.1, 37.9), (-8, 40.6),
    (-5.4, 37.6), (-3.3, 39.4), (-1.4, 40.3), (1.7, 38.3), (4.6, 39.8), (6.7, 40.6), (8.9, 37.9), (10.6, 39.8),
    (12.4, 37.6), (14.6, 39.1), (16.7, 38.3), (18.9, 37.6), (21.4, 37.9),
    (-19.7, 33.1), (-16.9, 34.6), (-14.7, 32.3), (-12.6, 33.8), (-9.7, 33.1), (-7.6, 34.3), (-4.7, 33.1),
    (-1.9, 33.8), (1.7, 34.6), (6, 33.4), (9.6, 32.3), (12.4, 34.6), (15.3, 33.1), (18.1, 34.9), (20.3, 30.8),
    (-25.4, 25.6), (-18.6, 28.6), (-16.9, 26.3), (-14.7, 29.3), (-12.6, 26.8), (-9.7, 28.3), (-6.9, 25.9),
    (-4.3, 29.3), (-1.9, 28.6), (3.1, 26.3), (4.6, 29.3), (7.4, 27.1), (10.3, 30.1), (12.4, 27.8), (14.3, 26.3),
    (16.7, 28.6),
    (-25.7, 18.8), (-23.3, 16.5), (-20.4, 18), (-18.3, 15), (-16.1, 18.8), (-14.3, 16.5), (-11.9, 18),
    (-9.7, 15), (-8, 21.1), (-5.4, 19.5), (-2.9, 16.5), (-0.4, 18.8), (1.7, 21.8), (3.9, 18), (6, 15.8),
    (8.6, 19.5), (10.6, 16.5), (12.4, 21.4), (14.6, 18.8), (17.1, 15.8), (19.1, 21.1), (21.7, 16.5), (24.6, 18),
    (-28.6, 12), (-23.7, 13.5), (-21.1, 12.8), (-17.6, 13.2), (-15.4, 10.5), (-13.3, 12), (-10.4, 9.8),
    (-7.6, 12.8), (-5.1, 10.8), (-2.6, 13.2), (0.3, 10.5), (3.1, 12), (6.3, 9.8), (8.9, 12.8), (11, 10.5),
    (13.4, 12), (16, 9.8), (18.6, 12.3), (21, 10.5), (23.4, 13.5),
    (-24, 6.8), (-21.1, 8.3), (-19, 4.5), (-16.9, 6.8), (-14.7, 3.8), (-12.6, 7.5), (-9.7, 4.5), (-6.9, 6),
    (-3.3, 3.8), (1.7, 6.8), (5.3, 4.5), (8.9, 6.8), (11, 3), (13.4, 6), (16.7, 3.8), (18.9, 6.8), (21.4, 4.5),
    (23.9, 1.5), (28.9, 3),
    (-29.4, -3.3), (-25.7, -4.5), (-23.4, -1.5), (-21.1, 0.3), (-19, -2.7), (-16.9, -0.8), (-14.3, -3.8),
    (-11.9, 0), (-9, -2.3), (-5.4, -1.5), (-2.6, -3.8), (3.1, -1.5), (7.4, -4.2), (10.3, -1.5), (12.9, -3.8),
    (15.3, -0.8), (17.4, -3), (20.3, -0.8), (23.1, -3.8), (27.1, -4.5),
    (-27.6, -12.8), (-24, -12), (-21.9, -7.5), (-19.7, -10.5), (-17.1, -8.3), (-15.1, -11.3), (-12.6, -9.8),
    (-11.1, -13.5), (-8.3, -10.8), (-5.4, -9), (1, -8.3), (6.7, -9.8), (9.6, -8.7), (11.7, -11.3), (14.3, -8.3),
    (16.7, -12), (19.6, -9.8), (22, -13.5), (24.6, -11.3), (27.4, -9),
    (-28.3, -17.3), (-24, -20.3), (-21.9, -17.7), (-19.7, -21.1), (-16.9, -17.3), (-14.3, -19.5),
    (-11.9, -16.5), (-9, -21.1), (-5.4, -20.3), (-2.6, -17.3), (0.3, -21.1), (3.1, -18), (5.7, -20.3),
    (8.9, -17.3), (11.4, -20.8), (13.4, -18), (15.7, -16.5), (18.1, -20.3), (21, -17.3), (23.9, -19.5),
    (27.7, -18),
    (-28.6, -24.1), (-26.1, -28.6), (-24, -24.8), (-21.4, -27.1), (-19, -23.3), (-16.9, -28.6), (-14.3, -26.3),
    (-11.9, -29.3), (-9.4, -25.6), (-6.6, -28.6), (-4, -24.4), (-1.1, -27.8), (1.7, -25.6), (4.6, -29.3),
    (7.1, -26.3), (10.3, -28.6), (12.9, -24.8), (15.3, -27.8), (18.1, -25.6), (21, -29.3), (23.1, -27.1),
    (26, -28.6), (29.6, -29.3),
    (-28.3, -36.1), (-22.6, -33.1), (-19.7, -35.3), (-17.1, -32.3), (-14.7, -36.1), (-11.9, -33.1), (-9, -35.3),
    (-6.1, -31.6), (-3.3, -34.6), (-1.1, -33.1), (2.4, -36.1), (5.3, -33.8), (8.1, -36.8), (11, -33.1),
    (13.9, -35.3), (16.3, -32.3), (18.9, -36.1), (21.4, -33.8), (24.3, -36.1), (27.7, -36.8),
    (-23.3, -39.8), (-21.1, -41.4), (-18.3, -39.1), (-16.1, -42.9), (-14, -40.6), (-11.1, -43.6), (-8.6, -39.8),
    (-6.1, -42.9), (-3.3, -40.6), (-0.4, -44.4), (2.4, -42.1), (5.3, -45.1), (7.4, -42.9), (10.6, -40.6),
    (13.1, -43.6), (16, -41.4), (18.9, -44.4), (21.7, -42.1), (25.3, -43.6), (28.1, -42.9),
    (-31.4, -48.1), (-26.9, -46.3), (-19, -49.6), (-16.9, -48.1), (-14.3, -51.1), (-11.9, -49.6), (-9.4, -52.6),
    (-6.9, -50.4), (-4, -48.1), (-1.4, -51.9), (1.7, -49.6), (4.6, -48.1), (7.4, -51.1), (10.3, -49.6),
    (13.1, -51.9), (16.7, -48.1), (18.6, -52.6), (22, -50.4), (26.7, -53.4),
    (-17.6, -59.4), (-15.4, -56.4), (-11.9, -57.9), (-9, -58.6), (-4.7, -57.1), (-2.3, -59.4), (3.1, -55.6),
    (6.7, -57.9), (11, -57.1), (15.3, -53.4), (17.4, -57.9), (20.3, -61.4), (23.1, -65.4), (27.4, -63.9),
    (-19.7, -62.4), (-20.4, -65), (-3.7, -60.9), (-3.3, -63.2), (-5.1, -67.4), (11.7, -67.4), (7.4, -69.9),
    (-27.1, -70.7), (10.6, -75.9),
    (-1.9, 14.3), (-3.3, -7.5), (3.1, -12), (6, -13.5), (-1.1, -13.5), (1.7, 1.5), (-1.1, 4.5),
    (-21, 22), (-16, 22), (-10, 24), (-4, 22), (2, 25), (8, 23), (13, 24), (18, 25), (-23, 9), (-18, 10),
    (-13, 15), (-8, 16), (-3, 8), (4, 15), (10, 14), (15, 14), (20, 15), (-21, 3), (-16, 2), (-11, 3), (-7, 1),
    (0, 5), (6, 1), (11, 0), (16, 1), (21, 2), (25, -1), (-24, -8), (-19, -6), (-14, -7), (-9, -6), (-3, -3),
    (4, -5), (9, -5), (14, -5), (19, -6), (23, -8), (-26, -16), (-22, -13), (-17, -14), (-13, -13), (-7, -15),
    (-2, -10), (3, -15), (8, -13), (13, -15), (18, -14), (22, -16), (-24, -22), (-19, -18), (-13, -22),
    (-8, -18), (-2, -23), (4, -22), (9, -23), (15, -22), (20, -23), (26, -24), (-23, -31), (-17, -30),
    (-13, -31), (-8, -31), (-3, -30), (3, -32), (9, -31), (14, -30), (19, -32), (25, -32), (-26, -39),
    (-20, -37), (-15, -38), (-9, -38), (-5, -37), (1, -39), (6, -39), (12, -38), (17, -38), (23, -39),
    (-22, -45), (-17, -46), (-10, -46), (-5, -45), (3, -46), (9, -45), (15, -45), (20, -47), (-14, -55),
    (-5, -53), (6, -52), (14, -56), (-8, 30), (3, 30), (-13, 28), (-20, 30),
]

# las dos curvas grises (iguales en los seis paneles)
curva_1 = [
    (0, 30.5), (-5, 28.5), (-10, 25), (-14, 19), (-17, 12), (-19.5, 4), (-20.3, -4), (-19.5, -12), (-17, -20),
    (-12.5, -28), (-7.5, -35), (-2.5, -39), (3, -39.5), (8, -37.5), (12, -32.5), (15, -25.5), (17, -17),
    (17.5, -8), (17, 1), (15, 10), (12, 18), (8, 24.5), (4, 28.5), (0, 30.5),
]
curva_2 = [
    (0, 30.5), (-4, 28.5), (-8, 24.5), (-12, 18), (-14.5, 10), (-16, 1), (-16.3, -8), (-15.5, -17), (-13, -25),
    (-9.5, -32), (-4.5, -37.5), (1, -39.5), (6, -39), (11, -35.5), (15, -29), (18, -21), (19.8, -12),
    (20.2, -3), (19.3, 5), (17.2, 12), (14, 19), (9.5, 25), (5, 28.5), (0, 30.5),
]

paneles = [pts_a, pts_b, pts_c, pts_d, pts_e, pts_f]
titulos = ['Real data (WVC: 11)'] + ['Simulated data (WVC: 11)'] * 5
letras = ['a)', 'b)', 'c)', 'd)', 'e)', 'f)']
marcas = [-0.010, -0.005, 0.0, 0.005, 0.010]

etiqueta_x = r'$(\sigma_3^0 - \sigma_1^0)\ /\ 2^{0.5}$'
etiqueta_y = r'$\sigma_2^0 - \overline{\sigma}_2^0$'


def formato(v, pos):
    if abs(v) < 1e-12:
        v = 0.0
    return f'{v:.3f}'.replace('-', '\u2212')


fig = plt.figure(figsize=(12.62, 17.61), dpi=100)

izq = [0.1025, 0.5983]
abajo = [0.7094, 0.3716, 0.0337]
ancho, alto = 0.3693, 0.2499
x_letra = [0.0095, 0.5055]
x_ylabel = [0.018, 0.513]

for i, pts in enumerate(paneles):
    fila, col = divmod(i, 2)
    ax = fig.add_axes([izq[col], abajo[fila], ancho, alto])

    datos = np.array(pts) * ESCALA
    ax.scatter(datos[:, 0], datos[:, 1], s=5, marker='s', color='black', linewidths=0, zorder=2)

    for curva in (curva_1, curva_2):
        c = np.array(curva) * ESCALA
        ax.plot(c[:, 0], c[:, 1], color='#9a9a9a', linewidth=1.8, zorder=3)

    ax.set_xlim(-0.010, 0.010)
    ax.set_ylim(-0.010, 0.010)
    for eje in (ax.xaxis, ax.yaxis):
        eje.set_major_locator(FixedLocator(marcas))
        eje.set_minor_locator(MultipleLocator(0.001))
        eje.set_major_formatter(FuncFormatter(formato))
    ax.tick_params(which='both', direction='in', top=True, right=True, labelsize=18, width=0.8)
    ax.tick_params(which='major', length=7, pad=3.5)
    ax.tick_params(which='minor', length=3.5)
    ax.tick_params(axis='y', which='major', pad=4)
    for s in ax.spines.values():
        s.set_linewidth(0.9)

    # las etiquetas extremas del eje y quedan hacia dentro, como en el original
    ticks_y = ax.yaxis.get_major_ticks()
    ticks_y[0].label1.set_verticalalignment('bottom')
    ticks_y[-1].label1.set_verticalalignment('top')

    ax.set_title(titulos[i], fontsize=21, pad=8)
    ax.text(0.5, -0.097, etiqueta_x, transform=ax.transAxes, ha='center', va='center', fontsize=16.5)
    fig.text(x_ylabel[col], abajo[fila] + alto / 2, etiqueta_y, rotation=90,
             ha='center', va='center', fontsize=17)
    fig.text(x_letra[col], abajo[fila] + alto + 0.0294, letras[i], ha='left', va='center', fontsize=21)

plt.savefig('out.png', dpi=100)
